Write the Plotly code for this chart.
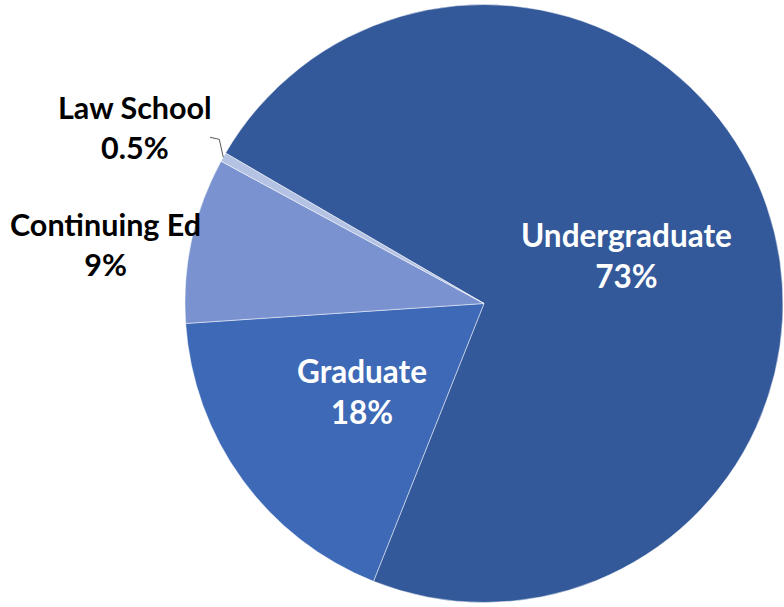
import plotly.graph_objects as go

# Enrollment share by school
schools = ["Undergraduate", "Graduate", "Continuing Ed", "Law School"]
shares = [73, 18, 9, 0.5]
slice_colors = ["#33599A", "#3E69B6", "#7A93D0", "#B4C2E3"]

# Label styling / placement (pixel positions of each label block centre)
label_font_colors = ["white", "white", "black", "black"]
label_font_sizes = [31.5, 31.5, 30.5, 30.5]
label_px = [(626, 255.5), (362, 391), (105, 244), (135, 127)]

W, H = 784, 607

fig = go.Figure(
    go.Pie(
        labels=schools,
        values=shares,
        sort=False,
        direction="clockwise",
        rotation=-59.8,
        marker=dict(colors=slice_colors, line=dict(color="rgba(255,255,255,0.6)", width=0.8)),
        textinfo="none",
        hoverinfo="label+percent",
        domain=dict(x=[185 / W, 783 / W], y=[0.0, 1.0]),
        showlegend=False,
    )
)

annotations = []
for i, (px, py) in enumerate(label_px):
    annotations.append(
        dict(
            x=px / W,
            y=1 - py / H,
            xref="paper",
            yref="paper",
            text=f"{schools[i]}<br>{shares[i]:g}%",
            showarrow=False,
            xanchor="center",
            yanchor="middle",
            align="center",
            font=dict(family="Lato", size=label_font_sizes[i],
                      color=label_font_colors[i], weight="bold"),
        )
    )

# Leader line from the Law School label to its slice
leader = [(210, 137.3), (219.3, 139.3), (223.3, 157.3)]
path = "M " + " L ".join(f"{x / W},{1 - y / H}" for x, y in leader)

fig.update_layout(
    width=W,
    height=H,
    margin=dict(l=0, r=0, t=0, b=0),
    paper_bgcolor="white",
    plot_bgcolor="white",
    annotations=annotations,
    shapes=[dict(type="path", path=path, xref="paper", yref="paper",
                 line=dict(color="#595959", width=1))],
)

fig.write_html("out.html")
